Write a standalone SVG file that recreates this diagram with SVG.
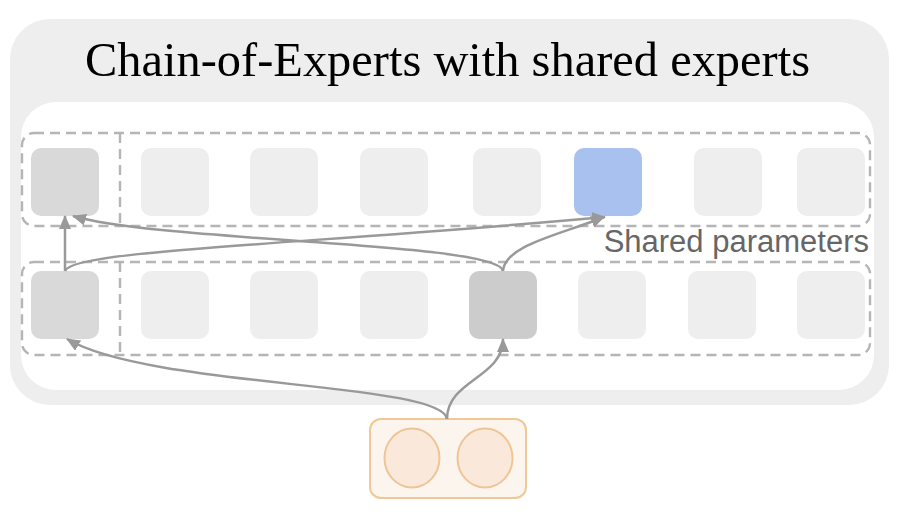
<svg xmlns="http://www.w3.org/2000/svg" width="904" height="518" viewBox="0 0 904 518">
<defs>
<style>
.sq{fill:#eeeeee}
.dash{fill:none;stroke:#b5b5b5;stroke-width:2.4;stroke-dasharray:10,6}
.con{fill:none;stroke:#999999;stroke-width:2.5}
</style>
<marker id="ah" markerUnits="userSpaceOnUse" markerWidth="14" markerHeight="12" refX="13" refY="6" orient="auto">
<path d="M0,0 L14,6 L0,12 Z" fill="#999999"/>
</marker>
</defs>
<rect width="904" height="518" fill="#ffffff"/>
<g id="container">
<rect x="10" y="19" width="879" height="386" rx="40" fill="#eeeeee"/>
<rect x="21" y="102" width="853" height="288" rx="35" fill="#ffffff"/>
<text x="447.5" y="76" text-anchor="middle" textLength="725" lengthAdjust="spacingAndGlyphs" font-family="Georgia, 'Liberation Serif', serif" font-size="48" fill="#000000">Chain-of-Experts with shared experts</text>
</g>
<g id="layer-top">
<rect class="dash" x="22" y="133" width="848" height="93" rx="12"/>
<line class="dash" x1="120" y1="133" x2="120" y2="226"/>
<rect x="31" y="148" width="68" height="68" rx="10" fill="#d9d9d9"/>
<rect class="sq" x="141" y="148" width="68" height="68" rx="10"/>
<rect class="sq" x="250" y="148" width="68" height="68" rx="10"/>
<rect class="sq" x="360" y="148" width="68" height="68" rx="10"/>
<rect class="sq" x="473" y="148" width="68" height="68" rx="10"/>
<rect x="574" y="148" width="68" height="68" rx="10" fill="#a9c1ef"/>
<rect class="sq" x="694" y="148" width="68" height="68" rx="10"/>
<rect class="sq" x="797" y="148" width="68" height="68" rx="10"/>
</g>
<g id="layer-bottom">
<rect class="dash" x="22" y="262" width="848" height="93" rx="12"/>
<line class="dash" x1="120" y1="262" x2="120" y2="355"/>
<rect x="31" y="271" width="68" height="68" rx="10" fill="#d9d9d9"/>
<rect class="sq" x="141" y="271" width="68" height="68" rx="10"/>
<rect class="sq" x="250" y="271" width="68" height="68" rx="10"/>
<rect class="sq" x="360" y="271" width="68" height="68" rx="10"/>
<rect x="469" y="271" width="68" height="68" rx="10" fill="#cccccc"/>
<rect class="sq" x="578" y="271" width="68" height="68" rx="10"/>
<rect class="sq" x="688" y="271" width="68" height="68" rx="10"/>
<rect class="sq" x="797" y="271" width="68" height="68" rx="10"/>
</g>
<g id="label">
<text x="869" y="252" text-anchor="end" font-family="'Liberation Sans', Arial, sans-serif" font-size="31" fill="#666666">Shared parameters</text>
</g>
<g id="input">
<rect x="370" y="419" width="156" height="79" rx="11" fill="#fcf5ee" stroke="#efc896" stroke-width="2"/>
<ellipse cx="412" cy="458" rx="27.5" ry="29.5" fill="#fae9db" stroke="#efc596" stroke-width="2"/>
<ellipse cx="485" cy="458" rx="27.5" ry="29.5" fill="#fae9db" stroke="#efc596" stroke-width="2"/>
</g>
<g id="connectors">
<path class="con" d="M447,419 C442,382 150,388 67,339" marker-end="url(#ah)"/>
<path class="con" d="M447,419 C447,380 503,378 503,339" marker-end="url(#ah)"/>
<path class="con" d="M65,271 L65,216" marker-end="url(#ah)"/>
<path class="con" d="M65,271 C72,250 300,245 605,217" marker-end="url(#ah)"/>
<path class="con" d="M503,271 C498,242 160,242 73,216" marker-end="url(#ah)"/>
<path class="con" d="M503,271 C505,245 560,235 604,217" marker-end="url(#ah)"/>
</g>
</svg>
